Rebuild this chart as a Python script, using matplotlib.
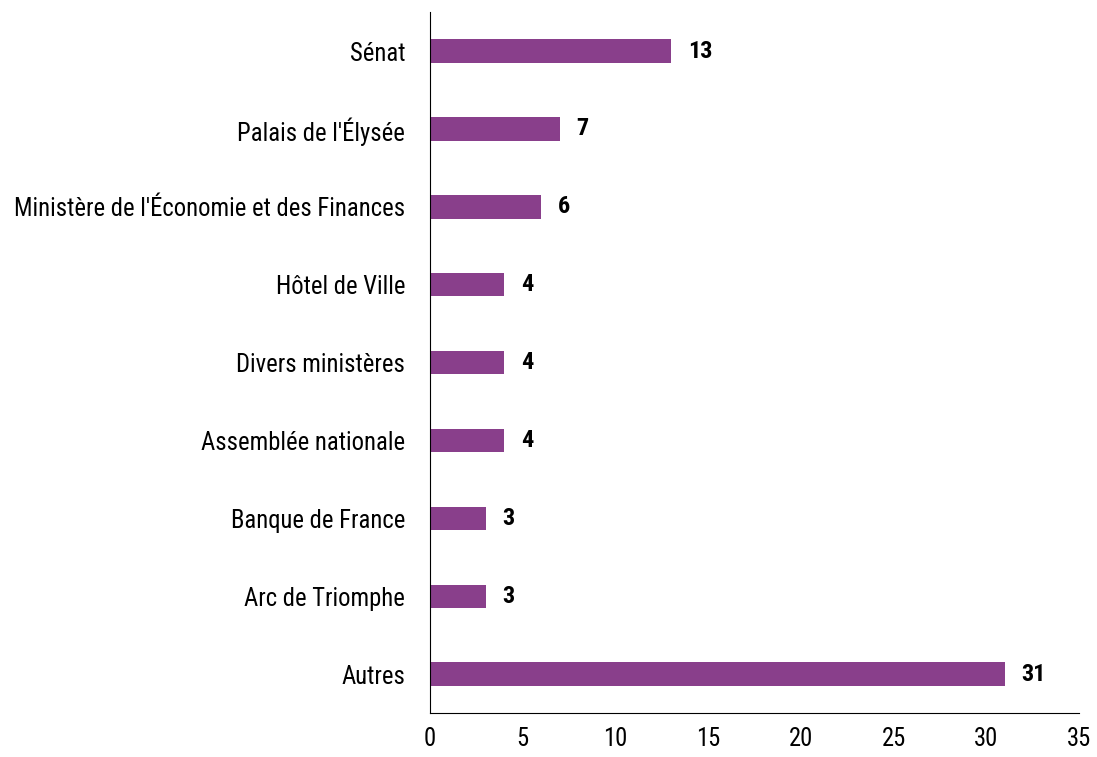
import matplotlib.pyplot as plt
from matplotlib import font_manager

categories = ["Sénat", "Palais de l'Élysée", "Ministère de l'Économie et des Finances",
              "Hôtel de Ville", "Divers ministères", "Assemblée nationale",
              "Banque de France", "Arc de Triomphe", "Autres"]
values = [13, 7, 6, 4, 4, 4, 3, 3, 31]

names = {f.name for f in font_manager.fontManager.ttflist}
fam = 'Liberation Sans Narrow' if 'Liberation Sans Narrow' in names else 'Roboto Condensed'
plt.rcParams['font.family'] = [fam, 'DejaVu Sans']

fig = plt.figure(figsize=(10.97, 7.57), dpi=100)
ax = fig.add_axes([0.392, 0.058, 0.5916, 0.926])

pos = list(range(len(categories)))
ax.barh(pos, values, height=0.3, color='#893f8b')
for p, v in zip(pos, values):
    ax.text(v + 0.9, p, str(v), va='center', ha='left', fontsize=17.5, fontweight='bold')

ax.set_ylim(len(categories) - 0.5, -0.5)
ax.set_xlim(0, 35)
ax.set_xticks(range(0, 36, 5))
ax.set_yticks(pos)
ax.set_yticklabels(categories)
ax.tick_params(length=0, labelsize=17.7, pad=18)
ax.tick_params(axis='x', pad=10)
ax.spines['top'].set_visible(False)
ax.spines['right'].set_visible(False)

fig.savefig('out.png', dpi=100)
